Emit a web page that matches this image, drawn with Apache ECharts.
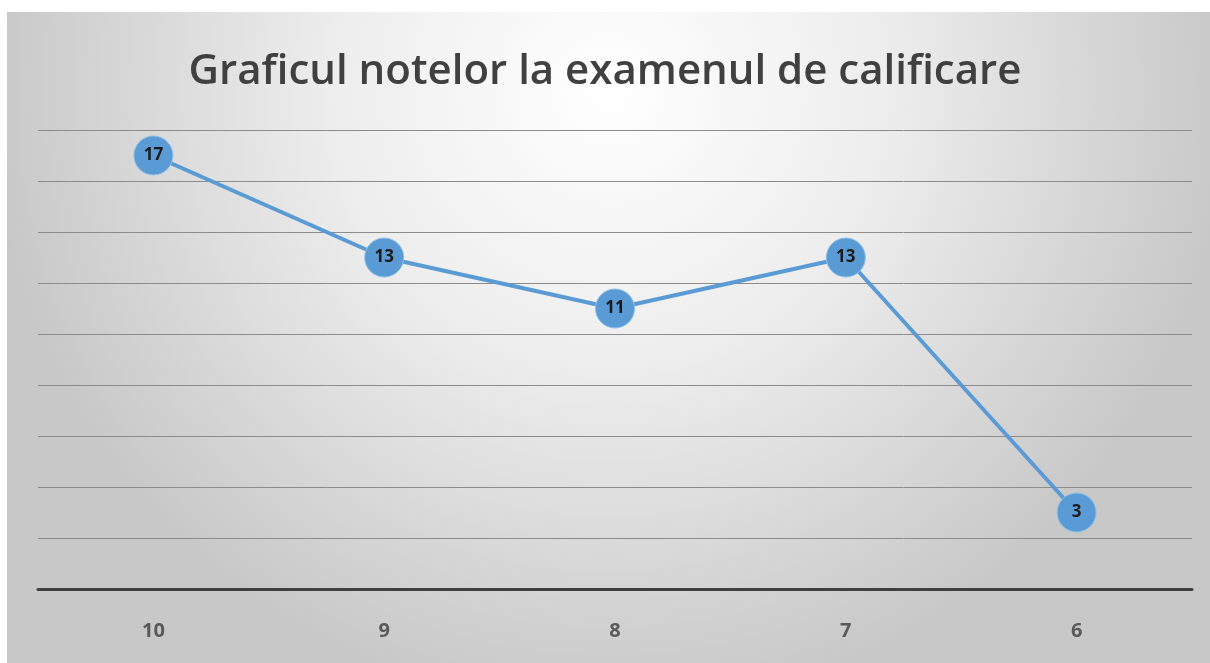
<!DOCTYPE html>
<html><head><meta charset="utf-8">
<script src="https://cdn.jsdelivr.net/npm/echarts@6/dist/echarts.min.js"></script>
<style>html,body{margin:0;padding:0;background:#fff}#c{width:1210px;height:663px}</style>
</head><body><div id="c"></div>
<script>
const categories = ['10','9','8','7','6'];
const values = [17, 13, 11, 13, 3];
const titleText = 'Graficul notelor la examenul de calificare';

const chart = echarts.init(document.getElementById('c'));
chart.setOption({
  animation: false,
  graphic: [{
    type: 'rect', z: -10, silent: true,
    shape: {x: 7, y: 12, width: 1203, height: 651},
    style: {fill: new echarts.graphic.RadialGradient(0.5, 0.12, 0.95, [
      {offset: 0, color: '#ffffff'},
      {offset: 0.45, color: '#ededed'},
      {offset: 1, color: '#c8c8c8'}
    ])}
  }],
  title: {
    text: titleText, left: 'center', top: 46,
    textStyle: {fontFamily: 'Open Sans', fontWeight: 600, fontSize: 42, color: '#404040'}
  },
  grid: {left: 38, right: 18, top: 130, bottom: 74, containLabel: false},
  xAxis: {
    type: 'category', data: categories, boundaryGap: true,
    axisLine: {lineStyle: {color: '#404040', width: 3}},
    axisTick: {show: false},
    axisLabel: {fontFamily: 'Open Sans', fontWeight: 'bold', fontSize: 20, color: '#595959', margin: 32}
  },
  yAxis: {
    type: 'value', min: 0, max: 18, interval: 2,
    axisLabel: {show: false}, axisLine: {show: false}, axisTick: {show: false},
    splitLine: {lineStyle: {color: '#8c8c8c', width: 1}}
  },
  series: [{
    type: 'line', data: values,
    symbol: 'circle', symbolSize: 39,
    lineStyle: {color: '#5b9bd5', width: 4},
    itemStyle: {color: '#5b9bd5', borderColor: '#8ec0ea', borderWidth: 1},
    label: {show: true, position: 'inside', fontFamily: 'Open Sans', fontWeight: 'bold', fontSize: 17, color: '#1a1a1a'}
  }]
});
</script></body></html>
